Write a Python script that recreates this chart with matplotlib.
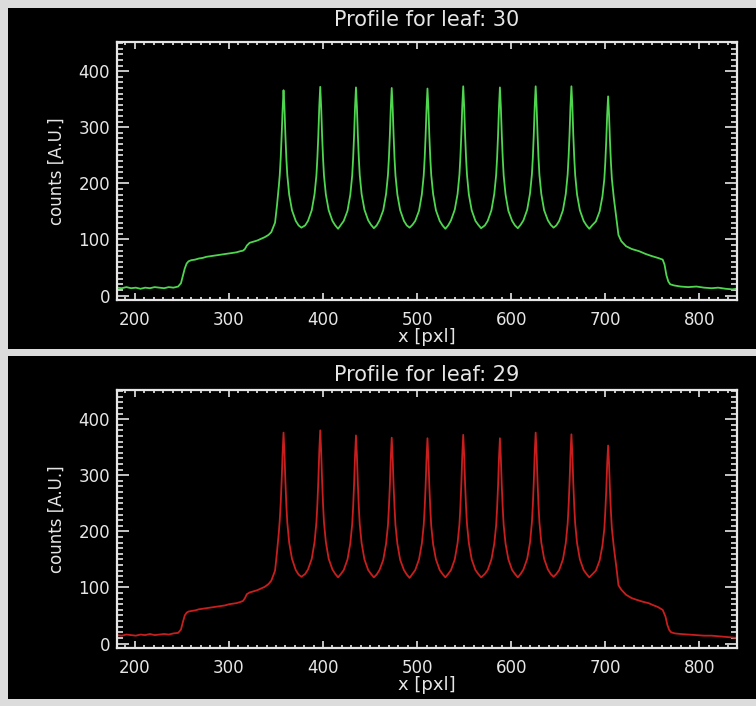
import matplotlib
matplotlib.use("Agg")
import matplotlib.pyplot as plt
from matplotlib.patches import Rectangle
from matplotlib.ticker import MultipleLocator

# ---- data (x in pixels, counts in A.U.) ----
x_leaf30 = [
    181, 186, 191, 196, 201, 206, 211, 216, 221, 226, 231, 236, 241, 246, 249, 251, 253, 255, 257, 260,
    264, 268, 272, 276, 280, 284, 288, 292, 296, 300, 304, 308, 312, 315, 317, 319, 322, 326, 330, 334,
    338, 342, 345, 349, 351, 353, 354, 355, 356, 357,
    358, 359, 360, 361, 362, 364, 367, 371, 374, 377,
    381, 384, 388, 391, 393, 394, 395, 396, 397, 398, 399, 400, 401, 403, 406, 410, 413, 416,
    419, 422, 426, 429, 431, 432, 433, 434, 435, 436, 437, 438, 439, 441, 444, 448, 451, 454,
    457, 460, 464, 467, 469, 470, 471, 472, 473, 474, 475, 476, 477, 479, 482, 486, 489, 492,
    495, 498, 502, 505, 507, 508, 509, 510, 511, 512, 513, 514, 515, 517, 520, 524, 527, 530,
    533, 536, 540, 543, 545, 546, 547, 548, 549, 550, 551, 552, 553, 555, 558, 562, 565, 568,
    572, 575, 579, 582, 584, 585, 586, 587, 588, 589, 590, 591, 592, 594, 597, 601, 604, 607,
    610, 613, 617, 620, 622, 623, 624, 625, 626, 627, 628, 629, 630, 632, 635, 639, 642, 645,
    648, 651, 655, 658, 660, 661, 662, 663, 664, 665, 666, 667, 668, 670, 673, 677, 680, 683,
    686, 690, 694, 697, 699, 700, 701, 702, 703, 704, 705, 706, 707, 709, 712,
    714, 717, 722, 728, 736, 743, 750, 756, 761, 763, 765, 767, 769, 773, 780, 788,
    797, 805, 813, 820, 828, 835, 840,
]
counts_leaf30 = [
    14, 13, 15, 13, 14, 12, 14, 13, 15, 14, 13, 15, 14, 16, 22, 35, 48, 57, 61, 63,
    64, 66, 67, 69, 70, 71, 72, 73, 74, 75, 76, 77, 79, 80, 83, 89, 94, 96, 98, 101,
    104, 108, 113, 130, 160, 195, 215, 245, 285, 330,
    366, 335, 285, 245, 215, 180, 152, 133, 125, 121,
    125, 133, 152, 181, 215, 246, 286, 337, 372, 336, 285, 245, 214, 180, 152, 133, 125, 119,
    126, 133, 151, 180, 214, 245, 285, 335, 371, 336, 286, 246, 215, 181, 153, 134, 126, 120,
    125, 134, 152, 181, 215, 245, 285, 334, 370, 335, 285, 244, 214, 180, 152, 133, 125, 121,
    126, 133, 151, 180, 214, 244, 284, 333, 369, 334, 284, 245, 215, 181, 152, 133, 125, 119,
    125, 134, 153, 181, 216, 247, 287, 338, 373, 337, 286, 246, 215, 180, 152, 133, 126, 120,
    125, 133, 152, 181, 215, 245, 285, 335, 371, 336, 285, 245, 214, 180, 151, 133, 125, 120,
    126, 134, 153, 182, 216, 246, 287, 338, 373, 337, 287, 246, 215, 181, 152, 134, 126, 121,
    125, 133, 152, 181, 216, 247, 287, 337, 373, 338, 286, 246, 215, 180, 152, 133, 125, 119,
    125, 132, 150, 177, 208, 237, 275, 322, 355, 322, 275, 237, 208, 175, 135,
    108, 97, 88, 83, 79, 74, 70, 67, 64, 55, 36, 25, 20, 18, 16, 15,
    16, 14, 13, 14, 12, 11, 12,
]

x_leaf29 = [
    181, 186, 191, 196, 201, 206, 211, 216, 221, 226, 231, 236, 241, 246, 249, 251, 253, 255, 257, 260,
    264, 268, 272, 276, 280, 284, 288, 292, 296, 300, 304, 308, 312, 315, 317, 319, 322, 326, 330, 334,
    338, 342, 345, 349, 351, 353, 354, 355, 356, 357,
    358, 359, 360, 361, 362, 364, 367, 371, 374, 377,
    381, 384, 388, 391, 393, 394, 395, 396, 397, 398, 399, 400, 401, 403, 406, 410, 413, 416,
    419, 422, 426, 429, 431, 432, 433, 434, 435, 436, 437, 438, 439, 441, 444, 448, 451, 454,
    457, 460, 464, 467, 469, 470, 471, 472, 473, 474, 475, 476, 477, 479, 482, 486, 489, 492,
    495, 498, 502, 505, 507, 508, 509, 510, 511, 512, 513, 514, 515, 517, 520, 524, 527, 530,
    533, 536, 540, 543, 545, 546, 547, 548, 549, 550, 551, 552, 553, 555, 558, 562, 565, 568,
    572, 575, 579, 582, 584, 585, 586, 587, 588, 589, 590, 591, 592, 594, 597, 601, 604, 607,
    610, 613, 617, 620, 622, 623, 624, 625, 626, 627, 628, 629, 630, 632, 635, 639, 642, 645,
    648, 651, 655, 658, 660, 661, 662, 663, 664, 665, 666, 667, 668, 670, 673, 677, 680, 683,
    686, 690, 694, 697, 699, 700, 701, 702, 703, 704, 705, 706, 707, 709, 712,
    714, 717, 722, 728, 735, 741, 746, 750, 756, 761, 764, 766, 768, 770, 774, 780,
    788, 797, 805, 813, 820, 828, 835, 840,
]
counts_leaf29 = [
    15, 14, 16, 15, 14, 16, 15, 17, 15, 16, 17, 16, 18, 19, 25, 38, 50, 55, 57, 58,
    59, 61, 62, 63, 64, 65, 66, 67, 68, 70, 71, 72, 74, 76, 81, 88, 91, 93, 95, 98,
    101, 106, 112, 130, 162, 198, 220, 250, 290, 338,
    376, 340, 288, 247, 216, 180, 151, 131, 123, 119,
    124, 132, 151, 181, 217, 249, 291, 343, 380, 342, 290, 248, 216, 181, 151, 132, 124, 118,
    124, 131, 150, 179, 213, 244, 284, 334, 371, 335, 285, 244, 213, 179, 150, 131, 124, 118,
    123, 131, 149, 178, 211, 242, 281, 331, 367, 331, 281, 242, 211, 178, 149, 131, 123, 117,
    124, 131, 150, 178, 211, 241, 280, 330, 366, 330, 280, 241, 210, 177, 150, 131, 124, 118,
    124, 131, 150, 179, 213, 244, 285, 336, 372, 336, 284, 244, 213, 179, 150, 131, 124, 118,
    124, 131, 150, 178, 211, 241, 280, 330, 366, 330, 280, 241, 211, 178, 150, 131, 124, 118,
    124, 132, 151, 180, 216, 247, 288, 340, 376, 340, 288, 247, 216, 180, 151, 132, 124, 119,
    124, 131, 150, 179, 214, 245, 286, 337, 373, 337, 286, 245, 214, 179, 150, 131, 124, 118,
    123, 130, 148, 175, 205, 235, 272, 320, 353, 320, 272, 235, 205, 173, 133,
    104, 96, 87, 81, 77, 74, 72, 69, 65, 60, 48, 33, 24, 20, 18, 17,
    16, 15, 14, 14, 13, 12, 11, 10,
]

panels = [
    ("Profile for leaf: 30", x_leaf30, counts_leaf30, "#4fd64f"),
    ("Profile for leaf: 29", x_leaf29, counts_leaf29, "#c81e1e"),
]
x_ticks = [200, 300, 400, 500, 600, 700, 800]
y_ticks = [0, 100, 200, 300, 400]

W, H = 756, 706
fig = plt.figure(figsize=(W / 100, H / 100), dpi=100, facecolor="#dcdcdc")

# black panel windows, kept behind the axes
fig.patches.append(Rectangle((8 / W, 1 - 349 / H), 1, 341 / H, transform=fig.transFigure,
                             facecolor="black", edgecolor="none", zorder=-5))
fig.patches.append(Rectangle((8 / W, 1 - 699 / H), 1, 343 / H, transform=fig.transFigure,
                             facecolor="black", edgecolor="none", zorder=-5))

axes_top = [42, 390]
title_y = [20, 375]
fg = "#e6e6e6"

for i, (title, xs, ys, col) in enumerate(panels):
    top = axes_top[i]
    ax = fig.add_axes([117 / W, 1 - (top + 258) / H, 620 / W, 258 / H])
    ax.set_facecolor("black")
    ax.plot(xs, ys, color=col, lw=1.3)
    ax.set_xlim(181, 840)
    ax.set_ylim(-8, 452)
    ax.set_xticks(x_ticks)
    ax.set_yticks(y_ticks)
    ax.xaxis.set_minor_locator(MultipleLocator(10))
    ax.yaxis.set_minor_locator(MultipleLocator(10))
    ax.tick_params(which="both", direction="in", top=True, right=True, colors=fg,
                   labelsize=12, width=1.2)
    ax.tick_params(axis="x", which="major", length=5, pad=8)
    ax.tick_params(axis="x", which="minor", length=2.2)
    ax.tick_params(axis="y", which="major", length=8.5, pad=5)
    ax.tick_params(axis="y", which="minor", length=4)
    for s in ax.spines.values():
        s.set_color(fg)
        s.set_linewidth(1.6)
    ax.set_xlabel("x [pxl]", color=fg, fontsize=13, labelpad=-1)
    ax.set_ylabel("counts [A.U.]", color=fg, fontsize=12, labelpad=9)
    fig.text(427 / W, 1 - title_y[i] / H, title, color=fg, fontsize=15,
             ha="center", va="center")

fig.savefig("out.png", dpi=100, facecolor=fig.get_facecolor())
